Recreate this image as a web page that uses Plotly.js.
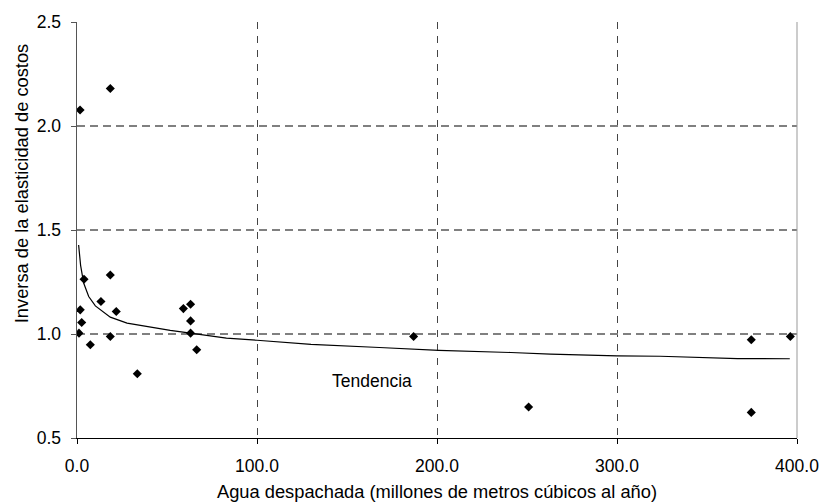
<!DOCTYPE html>
<html>
<head>
<meta charset="utf-8">
<script src="https://cdn.plot.ly/plotly-3.0.1.min.js"></script>
<style>
html,body{margin:0;padding:0;background:#fff;}
#chart{width:822px;height:504px;}
</style>
</head>
<body>
<div id="chart"></div>
<script>
// Observed data points (agua despachada, inversa de la elasticidad)
const aguaX = [1.7, 18.5, 3.9, 18.5, 1.8, 13.3, 21.8, 2.6, 1.1, 7.4, 18.5, 33.5, 59.1, 63.1, 63.1, 63.1, 66.5, 187, 250.9, 374.6, 396.3, 374.6];
const elastY = [2.077, 2.18, 1.263, 1.284, 1.116, 1.156, 1.108, 1.055, 1.004, 0.948, 0.988, 0.809, 1.122, 1.143, 1.063, 1.004, 0.924, 0.988, 0.649, 0.972, 0.988, 0.623];

// Trend line
const trendX = [0.9, 2.0, 3.7, 6.5, 10.2, 18.5, 27.8, 40.7, 51.8, 63, 83, 100, 130, 168, 201, 241, 263, 300, 324, 367, 396];
const trendY = [1.428, 1.33, 1.245, 1.18, 1.135, 1.081, 1.052, 1.033, 1.017, 1.004, 0.980, 0.970, 0.950, 0.935, 0.921, 0.911, 0.903, 0.895, 0.893, 0.882, 0.881];

const xTicks = [0, 100, 200, 300, 400];
const xTickText = ["0.0", "100.0", "200.0", "300.0", "400.0"];
const yTicks = [0.5, 1.0, 1.5, 2.0, 2.5];
const yTickText = ["0.5", "1.0", "1.5", "2.0", "2.5"];

const xTitle = "Agua despachada (millones de metros cúbicos al año)";
const yTitle = "Inversa de la elasticidad de costos";
const trendLabel = "Tendencia";

const FONT = "Arial, 'Liberation Sans', sans-serif";

const traces = [
  {
    x: trendX, y: trendY, type: "scatter", mode: "lines",
    line: {color: "#000", width: 1.2}, hoverinfo: "skip", showlegend: false
  },
  {
    x: aguaX, y: elastY, type: "scatter", mode: "markers",
    marker: {symbol: "diamond", size: 7, color: "#000", line: {width: 0}},
    showlegend: false
  }
];

const layout = {
  width: 822, height: 504,
  margin: {l: 77, r: 25, t: 22, b: 66, pad: 0},
  paper_bgcolor: "#fff", plot_bgcolor: "#fff",
  font: {family: FONT, size: 17.5, color: "#000"},
  showlegend: false,
  xaxis: {
    range: [0, 400], tickvals: xTicks, ticktext: xTickText,
    showgrid: true, gridcolor: "#444", gridwidth: 1, griddash: "7px,7px",
    zeroline: false, showline: true, linecolor: "#000", linewidth: 1.3,
    ticks: "outside", ticklen: 5, tickcolor: "#000", tickwidth: 1,
    ticklabelstandoff: 7,
    tickfont: {family: FONT, size: 17.5, color: "#000"}, fixedrange: true
  },
  yaxis: {
    range: [0.5, 2.5], tickvals: yTicks, ticktext: yTickText,
    showgrid: true, gridcolor: "#808080", gridwidth: 1.5, griddash: "8px,5px",
    zeroline: false, showline: true, linecolor: "#555", linewidth: 1.5,
    ticks: "outside", ticklen: 5, tickcolor: "#555", tickwidth: 1,
    ticklabelstandoff: 6,
    tickfont: {family: FONT, size: 17.5, color: "#000"}, fixedrange: true
  },
  shapes: [
    {type: "line", xref: "paper", yref: "paper", x0: 1, x1: 1, y0: 0, y1: 1,
     line: {color: "#999", width: 1}}
  ],
  annotations: [
    {text: trendLabel, x: 164, y: 0.772, xref: "x", yref: "y", showarrow: false,
     font: {family: FONT, size: 17.5, color: "#000"}},
    {text: xTitle, x: 0.5, xref: "paper", yref: "paper", y: -0.1585, yanchor: "bottom",
     showarrow: false, font: {family: FONT, size: 18.3, color: "#000"}},
    {text: yTitle, textangle: -90, x: -0.094, y: 0.612, xref: "paper", yref: "paper",
     showarrow: false, font: {family: FONT, size: 18.3, color: "#000"}}
  ]
};

Plotly.newPlot("chart", traces, layout, {displayModeBar: false, staticPlot: true});
</script>
</body>
</html>
